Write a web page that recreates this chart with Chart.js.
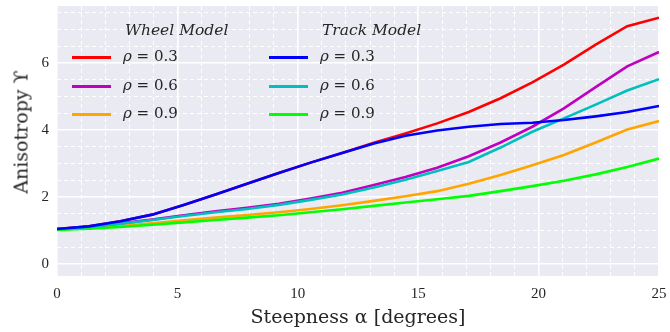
<!DOCTYPE html>
<html lang="en">
<head>
    <meta charset="UTF-8">
    <title>Anisotropy vs Steepness</title>
    <script src="https://cdn.jsdelivr.net/npm/chart.js"></script>
    <style>
        body { margin: 0; background: #fff; }
        #wrap { position: relative; width: 670px; height: 332px; }
        .lg-title { position: absolute; font-family: "DejaVu Serif", serif; font-style: italic; font-size: 15.5px; color: #262626; line-height: 1; }
        .lg-line { position: absolute; width: 39px; height: 3px; }
        .lg-label { position: absolute; font-family: "DejaVu Serif", serif; font-size: 15px; color: #262626; line-height: 1; white-space: nowrap; }
        .lg-label i { font-style: italic; }
        #ytitle { position: absolute; left: 21px; top: 132px; transform: translate(-50%, -50%) rotate(-90deg);
                  font-family: "DejaVu Serif", serif; font-size: 19px; color: #262626; white-space: nowrap; line-height: 1; }
    </style>
</head>
<body>
    <div id="wrap">
        <canvas id="chart" width="670" height="332"></canvas>
        <div id="ytitle">Anisotropy ϒ</div>
        <div id="legend"></div>
    </div>

    <script>
    // steepness angles (degrees)
    const alpha = [0, 1.32, 2.63, 3.95, 5.26, 6.58, 7.89, 9.21, 10.53, 11.84,
                   13.16, 14.47, 15.79, 17.1, 18.42, 19.74, 21.05, 22.37, 23.68, 25];

    // wheel model
    const wheel03 = [1.05, 1.13, 1.28, 1.48, 1.77, 2.08, 2.4, 2.72, 3.03, 3.32,
                     3.62, 3.9, 4.2, 4.54, 4.95, 5.42, 5.95, 6.55, 7.1, 7.35];
    const wheel06 = [1.05, 1.12, 1.22, 1.33, 1.46, 1.58, 1.68, 1.8, 1.96, 2.13,
                     2.36, 2.6, 2.88, 3.22, 3.63, 4.1, 4.65, 5.28, 5.9, 6.33];
    const wheel09 = [1.04, 1.08, 1.14, 1.22, 1.31, 1.39, 1.47, 1.55, 1.65, 1.76,
                     1.89, 2.03, 2.18, 2.4, 2.66, 2.95, 3.26, 3.63, 4.02, 4.27];

    // track model
    const track03 = [1.05, 1.13, 1.28, 1.48, 1.77, 2.08, 2.4, 2.72, 3.03, 3.32,
                     3.6, 3.83, 3.99, 4.1, 4.18, 4.22, 4.3, 4.41, 4.54, 4.72];
    const track06 = [1.05, 1.11, 1.21, 1.32, 1.44, 1.55, 1.65, 1.77, 1.92, 2.08,
                     2.29, 2.52, 2.78, 3.05, 3.48, 3.95, 4.35, 4.76, 5.18, 5.52];
    const track09 = [1.02, 1.06, 1.11, 1.18, 1.25, 1.32, 1.39, 1.46, 1.55, 1.64,
                     1.74, 1.84, 1.94, 2.04, 2.18, 2.33, 2.49, 2.68, 2.9, 3.15];

    const xTicks = [0, 5, 10, 15, 20, 25];
    const yTicks = [0, 2, 4, 6];
    const xMinorTicks = [1, 2, 3, 4, 6, 7, 8, 9, 11, 12, 13, 14, 16, 17, 18, 19, 21, 22, 23, 24];
    const yMinorTicks = [0.5, 1, 1.5, 2.5, 3, 3.5, 4.5, 5, 5.5, 6.5, 7, 7.5];

    const rhoLabels = ["0.3", "0.6", "0.9"];
    const wheelColors = ["#ff0000", "#bf00bf", "#ffa500"];
    const trackColors = ["#0000ff", "#00bfbf", "#00ff00"];

    const pts = ys => ys.map((y, i) => ({ x: alpha[i], y }));
    const line = (ys, color, order) => ({
        data: pts(ys), borderColor: color, borderWidth: 2.6,
        pointRadius: 0, tension: 0, fill: false, order
    });

    const datasets = [
        line(wheel03, wheelColors[0], 2),
        line(wheel06, wheelColors[1], 2),
        line(wheel09, wheelColors[2], 2),
        line(track03, trackColors[0], 1),
        line(track06, trackColors[1], 1),
        line(track09, trackColors[2], 1)
    ];

    const textColor = "#262626";
    const serif = "'Liberation Serif', 'DejaVu Serif', serif";

    const bgPlugin = {
        id: "bg",
        beforeDraw(chart) {
            const a = chart.chartArea, ctx = chart.ctx;
            ctx.save();
            ctx.fillStyle = "#eaeaf2";
            ctx.fillRect(a.left, a.top, a.right - a.left, a.bottom - a.top);
            ctx.restore();
        }
    };

    const setTicks = list => scale => { scale.ticks = list.map(v => ({ value: v })); };
    // fixed axis box sizes, no label overhang padding
    const fit = (w, h) => s => {
        if (w !== null) s.width = w;
        if (h !== null) s.height = h;
        s.paddingTop = 0; s.paddingBottom = 0; s.paddingLeft = 0; s.paddingRight = 0;
    };

    new Chart(document.getElementById("chart"), {
        type: "line",
        data: { datasets },
        plugins: [bgPlugin],
        options: {
            responsive: false,
            animation: false,
            layout: { padding: { top: 6, right: 11, left: 0, bottom: 0 } },
            plugins: { legend: { display: false }, tooltip: { enabled: false } },
            scales: {
                xMinor: {
                    type: "linear", position: "bottom", min: 0, max: 25,
                    afterBuildTicks: setTicks(xMinorTicks),
                    afterFit: fit(null, 0),
                    ticks: { display: false },
                    grid: { color: "#ffffff", lineWidth: 1, drawTicks: false, z: -1 },
                    border: { display: false, dash: [4, 3] }
                },
                yMinor: {
                    type: "linear", position: "left", min: -0.35, max: 7.7,
                    afterBuildTicks: setTicks(yMinorTicks),
                    afterFit: fit(0, null),
                    ticks: { display: false },
                    grid: { color: "#ffffff", lineWidth: 1, drawTicks: false, z: -1 },
                    border: { display: false, dash: [4, 3] }
                },
                x: {
                    type: "linear", position: "bottom", min: 0, max: 25,
                    afterBuildTicks: setTicks(xTicks),
                    afterFit: fit(null, 56),
                    ticks: { color: textColor, font: { family: serif, size: 15 }, padding: 9, maxRotation: 0 },
                    grid: { color: "#ffffff", lineWidth: 1.6, drawTicks: false },
                    border: { display: false },
                    title: {
                        display: true, text: "Steepness α [degrees]", color: textColor,
                        font: { family: "'DejaVu Serif', serif", size: 19 }, padding: { top: 0, bottom: 3 }
                    }
                },
                y: {
                    type: "linear", position: "left", min: -0.35, max: 7.7,
                    afterBuildTicks: setTicks(yTicks),
                    afterFit: fit(57, null),
                    ticks: { color: textColor, font: { family: serif, size: 15 }, padding: 8 },
                    grid: { color: "#ffffff", lineWidth: 1.6, drawTicks: false },
                    border: { display: false }
                }
            }
        }
    });

    // legend: two columns, drawn over the plot
    const legend = document.getElementById("legend");
    const columns = [
        { title: "Wheel Model", colors: wheelColors, lineX: 72, titleX: 125 },
        { title: "Track Model", colors: trackColors, lineX: 269, titleX: 322 }
    ];
    const rowY = [57, 86, 114];
    let html = "";
    columns.forEach(col => {
        html += `<div class="lg-title" style="left:${col.titleX}px;top:${31 - 8}px">${col.title}</div>`;
        col.colors.forEach((c, i) => {
            html += `<div class="lg-line" style="left:${col.lineX}px;top:${rowY[i] - 1.5}px;background:${c}"></div>`;
            html += `<div class="lg-label" style="left:${col.lineX + 51}px;top:${rowY[i] - 8}px"><i>ρ</i> = ${rhoLabels[i]}</div>`;
        });
    });
    legend.innerHTML = html;
    </script>
</body>
</html>
